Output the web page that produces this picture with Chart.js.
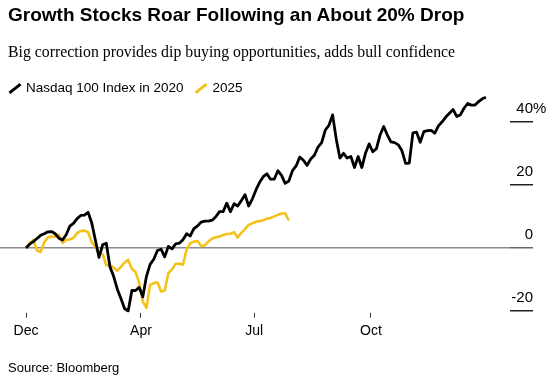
<!DOCTYPE html>
<html>
<head>
<meta charset="utf-8">
<script src="https://cdn.jsdelivr.net/npm/chart.js@4"></script>
<style>
  body { margin: 0; background: #fff; }
  #wrap { position: relative; width: 560px; height: 377px; overflow: hidden; font-family: "Liberation Sans", Arial, sans-serif; color: #000; }
  #chart { position: absolute; left: 0; top: 0; }
  .title { position: absolute; left: 8px; top: 5px; font-size: 19px; line-height: 19px; font-weight: bold; white-space: nowrap; }
  .sub { position: absolute; left: 8px; top: 44px; font-family: "Liberation Serif", "Times New Roman", serif; font-size: 15.8px; line-height: 16px; white-space: nowrap; }
  .legend { position: absolute; left: 8px; top: 80px; font-size: 13.5px; line-height: 16px; white-space: nowrap; }
  .legend span { display: inline-block; vertical-align: top; }
  .swatch { width: 14px; height: 3px; margin-top: 7px; transform: rotate(-38deg); margin-right: 4px; }
  .source { position: absolute; left: 8px; top: 361px; font-size: 13px; line-height: 13px; white-space: nowrap; }
</style>
</head>
<body>
<div id="wrap">
  <canvas id="chart" width="560" height="377"></canvas>
  <div class="title">Growth Stocks Roar Following an About 20% Drop</div>
  <div class="sub">Big correction provides dip buying opportunities, adds bull confidence</div>
  <div class="legend">
    <span class="swatch" style="background:#000"></span><span>Nasdaq 100 Index in 2020</span>
    <span class="swatch" style="background:#f5c21b; margin-left: 7px"></span><span>2025</span>
  </div>
  <div class="source">Source: Bloomberg</div>
</div>
<script>
// % change from start, one value every 2 trading days
const nasdaq2020 = [
  0, 1.2, 2.0, 3.0, 4.0, 4.5, 5.1, 5.2, 4.5, 3.1,
  2.5, 4.2, 6.9, 7.8, 9.3, 10.3, 10.4, 11.3, 8.0, 2.5,
  -3.0, 1.0, 1.5, -6, -9, -13, -16, -19.2, -20, -13.5,
  -13.5, -12.5, -15.5, -9, -5.2, -3.6, -0.8, -0.4, -2.8, 0.5,
  -0.3, 1.3, 1.5, 2.6, 4.5, 3.8, 6.1, 7.0, 8.2, 8.5,
  8.5, 8.8, 9.9, 11.5, 11.5, 14.2, 11.5, 14.0, 13.3, 15.0,
  16.9, 13.3, 15.5, 18.4, 20.8, 22.6, 23.5, 21.8, 21.8, 24.5,
  23, 20.5, 21.2, 24.5, 26, 28.8, 27.8, 26.2, 28.2, 29.4,
  32, 33.4, 37.4, 38.9, 42.2, 34.5, 28.5, 30, 28.5, 29,
  25.5, 29, 25.5, 30, 33, 30.5, 31.5, 35.8, 38.5, 35.8,
  33.6, 33.4, 32.7, 30.8, 26.8, 26.9, 36.5, 36.7, 33.5, 36.9,
  37.2, 37.3, 36.4, 38.7, 40, 41.5, 42.7, 43.9, 41.7, 42.2,
  44.3, 45.8, 45.3, 45.3, 46.4, 47.3, 47.8
];
const nasdaq2025 = [
  0, 1.6, 2.5, -0.8, -1.3, 1.8, 3.4, 3.6, 3.6, 4.2,
  1.6, 2.6, 2.7, 3.2, 4.7, 5.4, 5.5, 5.0, 1.8, 0.3,
  -1.7, -2.0, -5.5, -5.4, -6.2, -7.2, -6.0, -4.6, -3.8, -6.6,
  -7.6, -11, -17, -19, -11.7, -11.2, -10.9, -13.8, -13.5, -8,
  -6.8, -5.0, -5.0, -5.3, -0.5, 1.5, 2.0, 2.2, 0.6, 0.8,
  2.1, 3.0, 3.4, 3.6, 4.1, 4.4, 4.5, 5.0, 3.3, 4.8,
  6.0, 7.3, 7.8, 8.3, 8.5, 8.8, 9.3, 9.5, 10.0, 10.5,
  10.9, 11.0, 8.7
];
const dayStep = 2;
const monthDays = [0, 63, 125, 189];
const monthLabels = ['Dec', 'Apr', 'Jul', 'Oct'];
const yTicks = [-20, 0, 20, 40];

const toPoints = arr => arr.map((v, i) => ({ x: i * dayStep, y: v }));

const percentSign = {
  id: 'percentSign',
  afterDraw(chart) {
    const s = chart.scales.y;
    const ctx = chart.ctx;
    ctx.save();
    ctx.font = '15px "Liberation Sans", Arial, sans-serif';
    ctx.fillStyle = '#000';
    ctx.textAlign = 'left';
    ctx.textBaseline = 'middle';
    ctx.fillText('%', s.right, s.getPixelForValue(40) - 13);
    ctx.restore();
  }
};

new Chart(document.getElementById('chart'), {
  type: 'line',
  data: {
    datasets: [
      {
        label: 'Nasdaq 100 Index in 2020',
        data: toPoints(nasdaq2020),
        borderColor: '#000000',
        borderWidth: 2.8,
        pointRadius: 0,
        tension: 0,
        borderJoinStyle: 'round'
      },
      {
        label: '2025',
        data: toPoints(nasdaq2025),
        borderColor: '#f5c21b',
        borderWidth: 2.6,
        pointRadius: 0,
        tension: 0,
        borderJoinStyle: 'round'
      }
    ]
  },
  options: {
    responsive: false,
    animation: false,
    layout: { padding: { left: 0, right: 27, top: 95, bottom: 32.6 } },
    plugins: { legend: { display: false }, tooltip: { enabled: false } },
    scales: {
      x: {
        type: 'linear',
        min: -14.25,
        max: 265.2,
        afterBuildTicks: axis => { axis.ticks = monthDays.map(v => ({ value: v })); },
        ticks: {
          callback: (v, i) => monthLabels[i],
          color: '#000',
          font: { size: 14 },
          padding: 5,
          maxRotation: 0
        },
        grid: { drawOnChartArea: false, tickLength: 5, color: '#333', lineWidth: 1 },
        border: { display: false }
      },
      y: {
        position: 'right',
        min: -20.5,
        max: 48.5,
        afterBuildTicks: axis => { axis.ticks = yTicks.map(v => ({ value: v })); },
        afterFit: axis => { axis.width = 23; },
        ticks: {
          callback: v => String(v),
          color: '#000',
          font: { size: 15 },
          crossAlign: 'far',
          padding: -21.7,
          labelOffset: -13
        },
        grid: {
          color: c => (c.tick && c.tick.value === 0 ? '#8c8c8c' : 'rgba(0,0,0,0)'),
          tickColor: c => (c.tick && c.tick.value === 0 ? '#666' : '#222'),
          lineWidth: 1.5,
          tickLength: 23
        },
        border: { display: false }
      }
    }
  },
  plugins: [percentSign]
});
</script>
</body>
</html>
